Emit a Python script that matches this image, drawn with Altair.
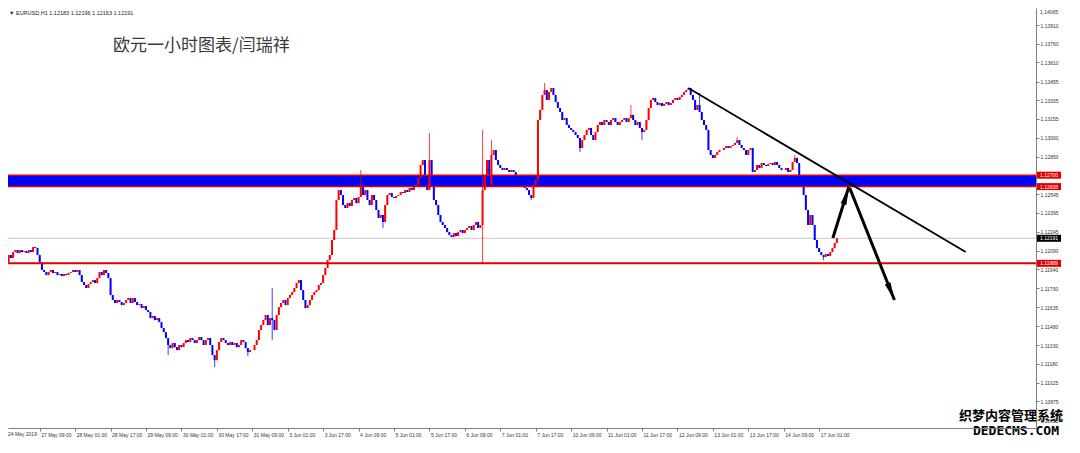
import altair as alt
import pandas as pd

# ---------------- data ----------------
# hourly bars, index 0 = 24 May 2019 17:00 (trading hours only)
first_open = 1.12010
close = [
    1.12032, 1.11999, 1.12056, 1.12032, 1.12080, 1.12096, 1.12072, 1.12096, 1.12080, 1.12088,
    1.12072, 1.12096, 1.12080, 1.12120, 1.12112, 1.12056, 1.11999, 1.11935, 1.11919, 1.11894,
    1.11919, 1.11935, 1.11911, 1.11919, 1.11894, 1.11903, 1.11886, 1.11903, 1.11894, 1.11911,
    1.11919, 1.11935, 1.11919, 1.11935, 1.11894, 1.11838, 1.11814, 1.11790, 1.11822, 1.11838,
    1.11854, 1.11830, 1.11870, 1.11919, 1.11894, 1.11935, 1.11911, 1.11870, 1.11733, 1.11693,
    1.11669, 1.11693, 1.11677, 1.11652, 1.11669, 1.11693, 1.11709, 1.11669, 1.11709, 1.11677,
    1.11652, 1.11660, 1.11628, 1.11644, 1.11612, 1.11596, 1.11547, 1.11564, 1.11531, 1.11547,
    1.11515, 1.11467, 1.11434, 1.11386, 1.11330, 1.11305, 1.11346, 1.11313, 1.11289, 1.11330,
    1.11313, 1.11346, 1.11370, 1.11354, 1.11386, 1.11370, 1.11346, 1.11370, 1.11394, 1.11370,
    1.11330, 1.11370, 1.11386, 1.11330, 1.11249, 1.11208, 1.11289, 1.11354, 1.11386, 1.11370,
    1.11346, 1.11330, 1.11354, 1.11330, 1.11346, 1.11313, 1.11330, 1.11370, 1.11354, 1.11305,
    1.11273, 1.11289, 1.11289, 1.11330, 1.11370, 1.11451, 1.11491, 1.11531, 1.11572, 1.11491,
    1.11547, 1.11531, 1.11451, 1.11572, 1.11636, 1.11669, 1.11693, 1.11652, 1.11709, 1.11733,
    1.11757, 1.11790, 1.11830, 1.11854, 1.11773, 1.11693, 1.11628, 1.11652, 1.11693, 1.11733,
    1.11757, 1.11773, 1.11814, 1.11830, 1.11894, 1.11951, 1.12015, 1.12056, 1.12177, 1.12258,
    1.12500, 1.12580, 1.12540, 1.12459, 1.12435, 1.12475, 1.12451, 1.12500, 1.12516, 1.12475,
    1.12524, 1.12621, 1.12540, 1.12580, 1.12500, 1.12459, 1.12540, 1.12500, 1.12419, 1.12354,
    1.12379, 1.12322, 1.12459, 1.12540, 1.12556, 1.12524, 1.12516, 1.12532, 1.12540, 1.12564,
    1.12556, 1.12580, 1.12564, 1.12597, 1.12580, 1.12605, 1.12621, 1.12677, 1.12782, 1.12822,
    1.12701, 1.12580, 1.12822, 1.12701, 1.12500, 1.12459, 1.12379, 1.12322, 1.12298, 1.12274,
    1.12241, 1.12217, 1.12201, 1.12233, 1.12209, 1.12241, 1.12258, 1.12233, 1.12258, 1.12274,
    1.12290, 1.12258, 1.12298, 1.12322, 1.12274, 1.12298, 1.12580, 1.12701, 1.12822, 1.12621,
    1.12863, 1.12903, 1.12822, 1.12782, 1.12758, 1.12742, 1.12758, 1.12742, 1.12726, 1.12742,
    1.12726, 1.12701, 1.12677, 1.12661, 1.12621, 1.12597, 1.12580, 1.12540, 1.12516, 1.12621,
    1.12661, 1.13145, 1.13226, 1.13347, 1.13387, 1.13307, 1.13371, 1.13403, 1.13347, 1.13290,
    1.13242, 1.13210, 1.13145, 1.13161, 1.13105, 1.13081, 1.13065, 1.13048, 1.13024, 1.13000,
    1.12919, 1.12984, 1.13024, 1.13065, 1.13081, 1.13024, 1.12984, 1.13048, 1.13105, 1.13129,
    1.13105, 1.13145, 1.13129, 1.13105, 1.13145, 1.13161, 1.13129, 1.13105, 1.13129, 1.13145,
    1.13161, 1.13129, 1.13161, 1.13186, 1.13145, 1.13105, 1.13129, 1.13081, 1.13048, 1.13065,
    1.13145, 1.13242, 1.13307, 1.13323, 1.13290, 1.13266, 1.13282, 1.13258, 1.13274, 1.13290,
    1.13266, 1.13282, 1.13307, 1.13323, 1.13307, 1.13331, 1.13347, 1.13371, 1.13387, 1.13403,
    1.13347, 1.13307, 1.13226, 1.13266, 1.13210, 1.13145, 1.13105, 1.13065, 1.12903, 1.12863,
    1.12839, 1.12863, 1.12887, 1.12903, 1.12903, 1.12919, 1.12935, 1.12919, 1.12935, 1.12944,
    1.12960, 1.12984, 1.12944, 1.12919, 1.12903, 1.12863, 1.12903, 1.12919, 1.12726, 1.12742,
    1.12782, 1.12758, 1.12798, 1.12782, 1.12774, 1.12790, 1.12798, 1.12782, 1.12806, 1.12782,
    1.12758, 1.12742, 1.12742, 1.12758, 1.12726, 1.12742, 1.12806, 1.12839, 1.12798, 1.12701,
    1.12621, 1.12540, 1.12419, 1.12298, 1.12379, 1.12298, 1.12177, 1.12112, 1.12080, 1.12056,
    1.12040, 1.12064, 1.12048, 1.12080, 1.12112, 1.12153, 1.12191,
]
# notable wicks (bar index, price)
high_wicks = [(121, 1.11790), (161, 1.12742), (192, 1.13040), (216, 1.13065),
              (220, 1.12984), (244, 1.13444), (283, 1.13266), (314, 1.13363),
              (331, 1.13008), (357, 1.12863)]
low_wicks = [(74, 1.11249), (95, 1.11152), (110, 1.11241), (121, 1.11370),
             (171, 1.12274), (216, 1.11991), (238, 1.12500), (260, 1.12887),
             (288, 1.12984), (370, 1.12015)]

time_ticks = list(range(16, 369, 16))
time_labels = ["24 May 2019", "27 May 09:00", "28 May 01:00", "28 May 17:00", "29 May 09:00",
               "30 May 01:00", "30 May 17:00", "31 May 09:00", "3 Jun 01:00", "3 Jun 17:00",
               "4 Jun 09:00", "5 Jun 01:00", "5 Jun 17:00", "6 Jun 09:00", "7 Jun 01:00",
               "7 Jun 17:00", "10 Jun 09:00", "11 Jun 01:00", "11 Jun 17:00", "12 Jun 09:00",
               "13 Jun 01:00", "13 Jun 17:00", "14 Jun 09:00", "17 Jun 01:00"]
price_ticks = [1.13910, 1.13760, 1.13610, 1.13455, 1.13305, 1.13155, 1.13000, 1.12850,
               1.12545, 1.12395, 1.12245, 1.12090, 1.11940, 1.11790, 1.11635, 1.11480,
               1.11330, 1.11180, 1.11025, 1.10875, 1.10725]
top_tick = "1.14065"

band_top, band_bottom = 1.12700, 1.12608
support = 1.11989
bid = 1.12191
red_labels = [1.12700, 1.12608, 1.11989]

trend_i = [308.9, 434.2]
trend_p = [1.13403, 1.12080]
up_i = [374.2, 381.4]
up_p = [1.12193, 1.12605]
down_i = [381.8, 402.0]
down_p = [1.12597, 1.11693]

header = "\u25bc EURUSD,H1  1.12183 1.12196 1.12163 1.12191"
title = "欧元一小时图表/闫瑞祥"
wm1 = "织梦内容管理系统"
wm2 = "DEDECMS.COM"

# ---------------- build tables ----------------
opens = [first_open] + close[:-1]
hi = [max(o, c) for o, c in zip(opens, close)]
lo = [min(o, c) for o, c in zip(opens, close)]
for k, v in high_wicks:
    hi[k] = max(hi[k], v)
for k, v in low_wicks:
    lo[k] = min(lo[k], v)
bars = pd.DataFrame({
    "i": list(range(len(close))),
    "open": opens, "close": close, "high": hi, "low": lo,
    "dir": ["up" if c >= o else "down" for o, c in zip(opens, close)],
})

W, H = 1028, 420
xs = alt.Scale(domain=[3.936, 463.68], nice=False, zero=False)
ys = alt.Scale(domain=[1.106607, 1.140486], nice=False, zero=False)
col = alt.Color("dir:N", scale=alt.Scale(domain=["up", "down"], range=["#ff0000", "#0000ff"]), legend=None)

label_js = "[" + ",".join("'" + t + "'" for t in time_labels) + "][round(datum.value/16)]"

x_axis = alt.Axis(values=time_ticks, labelExpr=label_js, orient="bottom", grid=False, title=None,
                  domainColor="#808080", tickColor="#808080", tickSize=3, labelFontSize=5,
                  labelColor="#333333", labelAlign="left", labelPadding=1, labelOffset=1,
                  labelFont="Liberation Sans", labelOverlap=False, labelFlush=False, zindex=2)
y_axis = alt.Axis(values=price_ticks, format=".5f", orient="right", grid=False, title=None,
                  domainColor="#808080", tickColor="#808080", tickSize=3, labelFontSize=5,
                  labelColor="#333333", labelPadding=1, labelFont="Liberation Sans",
                  labelOverlap=False, labelFlush=False, zindex=2)


def X(field):
    return alt.X(field, scale=xs, axis=x_axis)


def Y(field):
    return alt.Y(field, scale=ys, axis=y_axis)


base = alt.Chart(bars)

band = alt.Chart(pd.DataFrame({"a": [band_top], "b": [band_bottom]})).mark_rect(color="#0000ff").encode(
    x=alt.value(0), x2=alt.value(W), y=Y("a:Q"), y2="b:Q")

bidline = alt.Chart(pd.DataFrame({"p": [bid]})).mark_rule(color="#c8c8c8", strokeWidth=1).encode(
    x=alt.value(0), x2=alt.value(W), y=Y("p:Q"))

wicks = base.mark_rule(strokeWidth=1, clip=True, opacity=0.75).encode(
    x=X("i:Q"), y=Y("low:Q"), y2="high:Q", color=col)

bodies = base.mark_bar(size=2, clip=True).encode(
    x=X("i:Q"), y=Y("open:Q"), y2="close:Q", color=col)

redlines = alt.Chart(pd.DataFrame({"p": [band_top, band_bottom, support], "w": [1.5, 1.5, 2.0]})).mark_rule(
    color="#e00000").encode(
    x=alt.value(0), x2=alt.value(W), y=Y("p:Q"),
    strokeWidth=alt.StrokeWidth("w:Q", scale=None))

trend = alt.Chart(pd.DataFrame({"i": trend_i, "p": trend_p})).mark_line(color="black", strokeWidth=1.8).encode(
    x=X("i:Q"), y=Y("p:Q"))

arr_df = pd.DataFrame({"i": up_i + down_i, "p": up_p + down_p, "g": ["u", "u", "d", "d"]})
arrows = alt.Chart(arr_df).mark_line(color="black", strokeWidth=3).encode(
    x=X("i:Q"), y=Y("p:Q"), detail="g:N")

head_shape = "M0,0L0.4,2.4L-0.4,2.4Z"
head_up = alt.Chart(pd.DataFrame({"i": [up_i[1]], "p": [up_p[1]]})).mark_point(
    shape=head_shape, size=225, filled=True, color="black", opacity=1, angle=17).encode(
    x=X("i:Q"), y=Y("p:Q"))
head_down = alt.Chart(pd.DataFrame({"i": [down_i[1]], "p": [down_p[1]]})).mark_point(
    shape=head_shape, size=225, filled=True, color="black", opacity=1, angle=158).encode(
    x=X("i:Q"), y=Y("p:Q"))

title_mark = alt.Chart(pd.DataFrame({"t": [title]})).mark_text(
    align="left", baseline="middle", fontSize=17, font="Noto Sans CJK SC", color="#3a3a3a").encode(
    x=alt.value(105), y=alt.value(38), text="t:N")
header_mark = alt.Chart(pd.DataFrame({"t": [header]})).mark_text(
    align="left", baseline="top", fontSize=5.5, font="Liberation Sans", color="#222222").encode(
    x=alt.value(1), y=alt.value(3), text="t:N")
first_label = alt.Chart(pd.DataFrame({"t": [time_labels[0]]})).mark_text(
    align="left", baseline="top", fontSize=5, font="Liberation Sans", color="#333333").encode(
    x=alt.value(0), y=alt.value(H + 4), text="t:N")
top_label = alt.Chart(pd.DataFrame({"t": [top_tick]})).mark_text(
    align="left", baseline="top", fontSize=5, font="Liberation Sans", color="#333333").encode(
    x=alt.value(W + 4), y=alt.value(2), text="t:N")

red_df = pd.DataFrame({"p": red_labels, "t": [f"{v:.5f}" for v in red_labels]})
bid_df = pd.DataFrame({"p": [bid], "t": [f"{bid:.5f}"]})
red_box = alt.Chart(red_df).mark_rule(strokeWidth=7, color="#e00000").encode(
    x=alt.value(W + 1), x2=alt.value(W + 25), y=Y("p:Q"))
bid_box = alt.Chart(bid_df).mark_rule(strokeWidth=7, color="#000000").encode(
    x=alt.value(W + 1), x2=alt.value(W + 25), y=Y("p:Q"))
red_txt = alt.Chart(red_df).mark_text(fontSize=5, font="Liberation Sans", color="white",
                                      align="center", baseline="middle").encode(
    x=alt.value(W + 13), y=Y("p:Q"), text="t:N")
bid_txt = alt.Chart(bid_df).mark_text(fontSize=5, font="Liberation Sans", color="white",
                                      align="center", baseline="middle").encode(
    x=alt.value(W + 13), y=Y("p:Q"), text="t:N")

wm_back1 = alt.Chart(pd.DataFrame({"t": [wm1]})).mark_text(
    align="right", baseline="middle", fontSize=13, fontWeight="bold", font="Noto Sans CJK SC",
    color="white", stroke="white", strokeWidth=3).encode(x=alt.value(W + 27), y=alt.value(H - 12), text="t:N")
wm_front1 = alt.Chart(pd.DataFrame({"t": [wm1]})).mark_text(
    align="right", baseline="middle", fontSize=13, fontWeight="bold", font="Noto Sans CJK SC",
    color="black").encode(x=alt.value(W + 27), y=alt.value(H - 12), text="t:N")
wm_back2 = alt.Chart(pd.DataFrame({"t": [wm2]})).mark_text(
    align="right", baseline="middle", fontSize=13, fontWeight="bold", font="DejaVu Sans Mono",
    color="white", stroke="white", strokeWidth=3).encode(x=alt.value(W + 23), y=alt.value(H + 3), text="t:N")
wm_front2 = alt.Chart(pd.DataFrame({"t": [wm2]})).mark_text(
    align="right", baseline="middle", fontSize=13, fontWeight="bold", font="DejaVu Sans Mono",
    color="black").encode(x=alt.value(W + 23), y=alt.value(H + 3), text="t:N")

chart = alt.layer(
    band, bidline, wicks, bodies, redlines, trend, arrows, head_up, head_down,
    title_mark, header_mark, first_label, top_label, red_box, bid_box, red_txt, bid_txt,
    wm_back1, wm_front1, wm_back2, wm_front2,
).properties(
    width=W, height=H,
    autosize=alt.AutoSizeParams(type="none"),
    padding={"left": 0, "top": 0, "right": 28, "bottom": 12},
    background="white",
).configure_view(strokeWidth=0)

chart.save("out.html", embed_options={"renderer": "svg", "actions": False})
